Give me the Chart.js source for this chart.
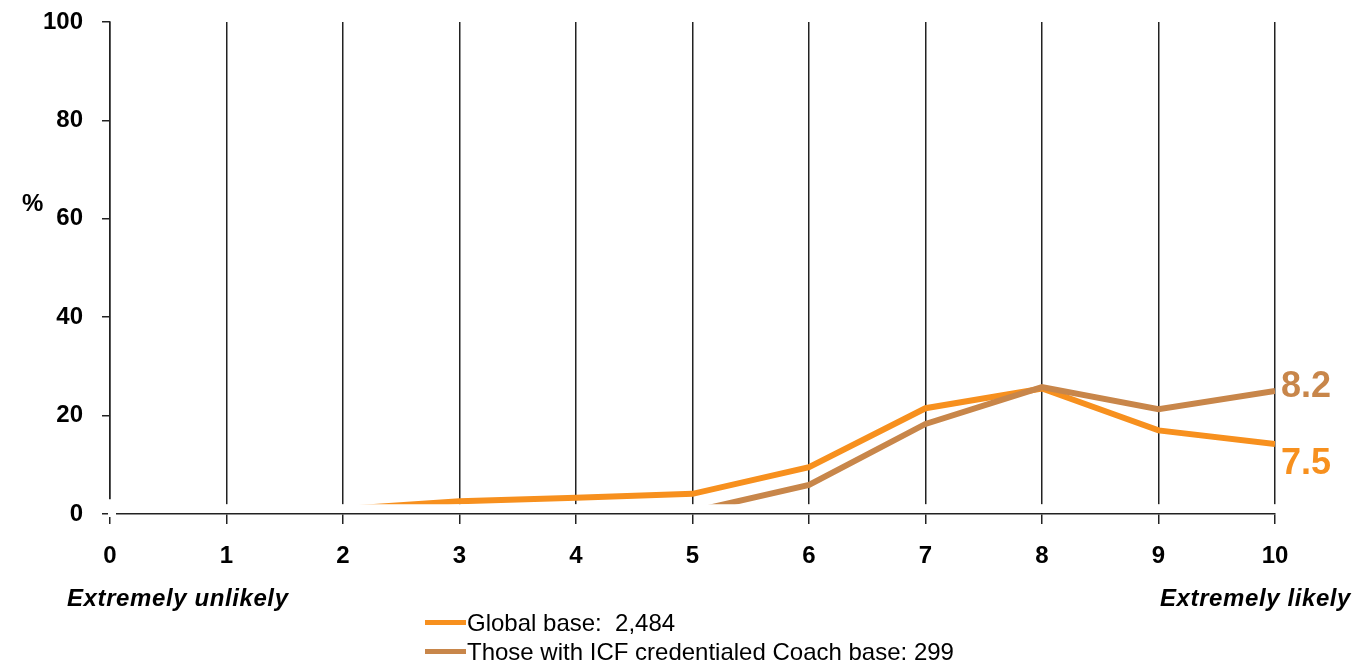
<!DOCTYPE html>
<html>
<head>
<meta charset="utf-8">
<script src="https://cdn.jsdelivr.net/npm/chart.js@4.4.1/dist/chart.umd.min.js"></script>
<style>
  html, body { margin:0; padding:0; background:#fff; }
  #wrap { position:relative; width:1371px; height:664px; font-family:"Liberation Sans", Arial, sans-serif; }
  #c { position:absolute; left:0; top:0; }
  .note { position:absolute; font-size:24px; font-style:italic; font-weight:bold; color:#000; white-space:pre; letter-spacing:0.6px; }
  #pct { position:absolute; left:22px; top:189px; font-size:24px; font-weight:bold; color:#000; }
  #legend { position:absolute; left:425px; top:608px; font-size:24px; color:#000; }
  .li { display:flex; align-items:center; height:29px; white-space:pre; }
  .sw { width:41px; height:5px; margin-right:1px; }
</style>
</head>
<body>
<div id="wrap">
  <canvas id="c" width="1371" height="664"></canvas>
  <div id="pct">%</div>
  <div class="note" id="lo" style="left:67px; top:584px;"></div>
  <div class="note" id="hi" style="left:1160px; top:584px;"></div>
  <div id="legend"></div>
</div>
<script>
// ---- data ----
const scores = [0, 1, 2, 3, 4, 5, 6, 7, 8, 9, 10];
const globalPct = [0.3, 0.4, 1.0, 2.6, 3.3, 4.1, 9.5, 21.5, 25.5, 17.0, 14.2];
const credentialedPct = [0.3, 0.4, 0.6, 0.8, 1.2, 0.5, 5.9, 18.3, 25.8, 21.3, 25.0];
const seriesNames = ["Global base:  2,484", "Those with ICF credentialed Coach base: 299"];
const meanLabels = ["7.5", "8.2"];
const yTicks = [0, 20, 40, 60, 80, 100];
const endNotes = ["Extremely unlikely", "Extremely likely"];
const colors = ["#F7901E", "#C8864A"];

document.getElementById('lo').textContent = endNotes[0];
document.getElementById('hi').textContent = endNotes[1];
const lg = document.getElementById('legend');
seriesNames.forEach((n, i) => {
  const d = document.createElement('div'); d.className = 'li';
  const s = document.createElement('span'); s.className = 'sw'; s.style.background = colors[i];
  const t = document.createElement('span'); t.textContent = n;
  d.appendChild(s); d.appendChild(t); lg.appendChild(d);
});

const FONT = "'Liberation Sans', Arial, sans-serif";

const gapPlugin = {
  id: 'gap',
  beforeDatasetsDraw(chart) {
    const ctx = chart.ctx, a = chart.chartArea, y = chart.scales.y;
    const top = y.getPixelForValue(2);
    ctx.save();
    ctx.fillStyle = '#fff';
    ctx.fillRect(a.left - 2, top, a.right - a.left + 5, a.bottom - 1 - top);
    const axTop = y.getPixelForValue(3);
    ctx.fillRect(a.left - 2, axTop, 4, a.bottom - 1 - axTop);
    ctx.fillRect(a.left - 2, a.bottom - 3, 8, 6);
    ctx.restore();
    ctx.save();
    ctx.beginPath();
    ctx.rect(a.left - 10, a.top - 10, a.right - a.left + 20, top - a.top + 10);
    ctx.clip();
  },
  afterDatasetsDraw(chart) {
    const ctx = chart.ctx;
    ctx.restore();
    // mean labels at series ends
    const offs = [20, -4];
    ctx.save();
    ctx.font = "bold 36px " + FONT;
    ctx.textAlign = 'left';
    ctx.textBaseline = 'middle';
    chart.data.datasets.forEach((ds, i) => {
      const meta = chart.getDatasetMeta(i);
      const p = meta.data[meta.data.length - 1];
      ctx.fillStyle = colors[i];
      ctx.fillText(meanLabels[i], p.x + 6, p.y + offs[i]);
    });
    ctx.restore();
  }
};

new Chart(document.getElementById('c'), {
  type: 'line',
  data: {
    datasets: [
      { label: seriesNames[0], data: scores.map((s, i) => ({x: s, y: globalPct[i]})),
        borderColor: colors[0], backgroundColor: colors[0], borderWidth: 6, pointRadius: 0, tension: 0, order: 2 },
      { label: seriesNames[1], data: scores.map((s, i) => ({x: s, y: credentialedPct[i]})),
        borderColor: colors[1], backgroundColor: colors[1], borderWidth: 6, pointRadius: 0, tension: 0, order: 1 }
    ]
  },
  options: {
    responsive: false,
    animation: false,
    devicePixelRatio: 1,
    layout: { padding: { left: 0, right: 96, top: 22, bottom: 0 } },
    plugins: { legend: { display: false }, tooltip: { enabled: false } },
    scales: {
      x: {
        type: 'linear', min: 0, max: 10,
        afterFit(s) { s.height = 150; s.paddingLeft = 0; s.paddingRight = 0; },
        afterBuildTicks(s) { s.ticks = scores.map(v => ({value: v})); },
        grid: { color: '#222', lineWidth: 1.5, drawTicks: true, tickLength: 10, tickColor: '#222' },
        border: { display: true, color: '#222', width: 1.5 },
        ticks: { color: '#000', font: { family: FONT, size: 24, weight: 'bold' }, padding: 18, maxRotation: 0 }
      },
      y: {
        min: 0, max: 100,
        afterFit(s) { s.width = 110; s.paddingTop = 0; s.paddingBottom = 0; },
        afterBuildTicks(s) { s.ticks = yTicks.map(v => ({value: v})); },
        grid: { drawOnChartArea: false, drawTicks: true, tickLength: 8, color: '#222', lineWidth: 1.5 },
        border: { display: true, color: '#222', width: 1.5 },
        ticks: { color: '#000', font: { family: FONT, size: 24, weight: 'bold' }, padding: 19 }
      }
    }
  },
  plugins: [gapPlugin]
});
</script>
</body>
</html>
